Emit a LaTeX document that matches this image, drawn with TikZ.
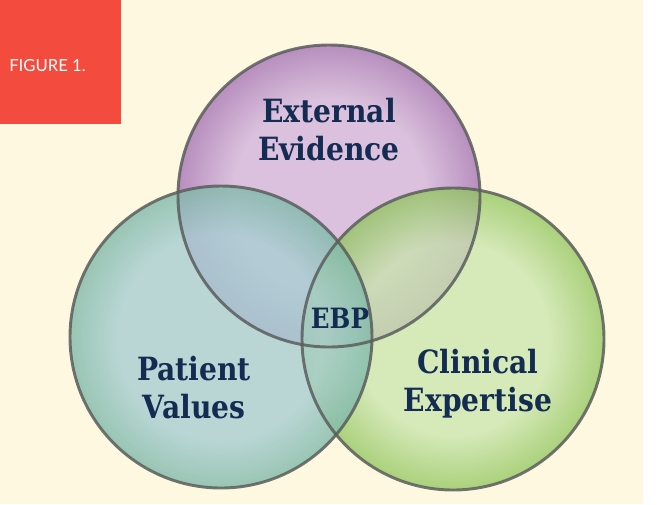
\documentclass[tikz,border=0pt]{standalone}
\usepackage{fontspec}
\usepackage{xcolor}
\newfontfamily\slabfont[FakeStretch=0.88]{DejaVu Serif}
\newfontfamily\tagfont{Lato}
\definecolor{cream}{HTML}{FFF8E1}
\definecolor{tagred}{HTML}{F44B3F}
\definecolor{navy}{HTML}{142C52}
\definecolor{ringgray}{HTML}{5A5E5C}
\definecolor{purpleIn}{HTML}{CFAFDC}
\definecolor{purpleOut}{HTML}{A06CB3}
\definecolor{tealIn}{HTML}{A8CED2}
\definecolor{tealOut}{HTML}{80B9A9}
\definecolor{greenIn}{HTML}{C8E4AC}
\definecolor{greenOut}{HTML}{8EC45A}
\pgfdeclareradialshading{purpleball}{\pgfpointorigin}{color(0bp)=(purpleIn); color(16bp)=(purpleIn); color(25bp)=(purpleOut); color(50bp)=(purpleOut)}
\pgfdeclareradialshading{tealball}{\pgfpointorigin}{color(0bp)=(tealIn); color(17bp)=(tealIn); color(25bp)=(tealOut); color(50bp)=(tealOut)}
\pgfdeclareradialshading{greenball}{\pgfpointorigin}{color(0bp)=(greenIn); color(16bp)=(greenIn); color(25bp)=(greenOut); color(50bp)=(greenOut)}
\tikzset{
    venn-circle/.style = {circle, minimum size=226.5pt, inner sep=0pt, shade, fill opacity=0.75},
    venn-ring/.style = {draw=ringgray, draw opacity=0.85, line width=2.2pt},
    venn-label/.style = {text=navy, align=center, font=\slabfont\bfseries\fontsize{24}{28.5}\selectfont},
    fig-tag/.style = {fill=tagred, minimum width=90.75pt, minimum height=93pt, inner sep=0pt},
}

\begin{document}
\begin{tikzpicture}[x=0.75pt, y=-0.75pt]
\fill[white] (0,0) rectangle (670,504);
\fill[cream] (0,0) rectangle (643,504);
\useasboundingbox (0,0) rectangle (670,504);
\node[fig-tag] (tag) at (60.5,62) {};
\node[text=white, inner sep=0pt, anchor=base west, font=\tagfont\fontsize{12.5}{15}\selectfont] (tag-text) at (9,71) {FIGURE 1.};
\node[venn-circle, shading=purpleball] (external-circle) at (329,196) {};
\node[venn-circle, shading=greenball] (clinical-circle) at (453,339) {};
\node[venn-circle, shading=tealball, fill opacity=0.8] (patient-circle) at (221,337) {};
\draw[venn-ring] (external-circle.center) circle [radius=113.25pt];
\draw[venn-ring] (clinical-circle.center) circle [radius=113.25pt];
\draw[venn-ring] (patient-circle.center) circle [radius=113.25pt];
\node[venn-label] (external) at (329,130) {External\\Evidence};
\node[venn-label] (patient) at (194,388) {Patient\\Values};
\node[venn-label] (clinical) at (478,384) {Clinical\\Expertise};
\node[venn-label, anchor=base, font=\slabfont\bfseries\fontsize{21}{24}\selectfont] (ebp) at (340,328) {EBP};
\end{tikzpicture}
\end{document}
